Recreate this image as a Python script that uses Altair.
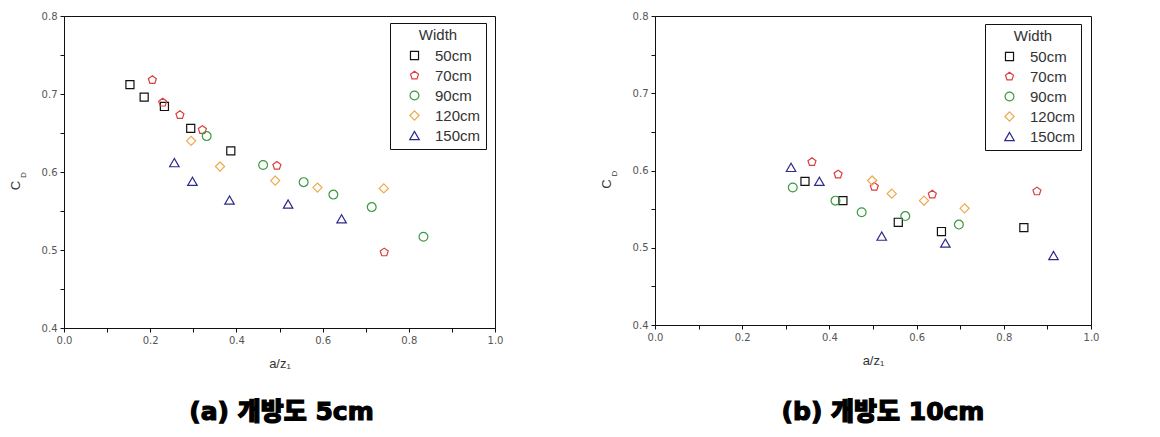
import altair as alt
import pandas as pd

widths = ["50cm", "70cm", "90cm", "120cm", "150cm"]
colors = ["#111111", "#d8403f", "#3a9a3e", "#f0a84c", "#2c2a8c"]
pentagon = "M0,-1L0.951,-0.309L0.588,0.809L-0.588,0.809L-0.951,-0.309Z"
shapes = ["square", pentagon, "circle", "diamond", "triangle-up"]
marker_sizes = [65, 90, 75, 80, 80]

# panel (a) 5cm
a_50_x = [0.153, 0.186, 0.233, 0.294, 0.387]
a_50_y = [0.712, 0.696, 0.684, 0.656, 0.627]
a_70_x = [0.205, 0.229, 0.269, 0.321, 0.494, 0.743]
a_70_y = [0.718, 0.689, 0.673, 0.654, 0.608, 0.497]
a_90_x = [0.331, 0.462, 0.556, 0.625, 0.714, 0.834]
a_90_y = [0.646, 0.609, 0.587, 0.571, 0.555, 0.517]
a_120_x = [0.295, 0.362, 0.490, 0.588, 0.742]
a_120_y = [0.640, 0.607, 0.589, 0.580, 0.579]
a_150_x = [0.256, 0.298, 0.384, 0.520, 0.644]
a_150_y = [0.612, 0.588, 0.564, 0.559, 0.540]

# panel (b) 10cm
b_50_x = [0.344, 0.431, 0.558, 0.657, 0.846]
b_50_y = [0.586, 0.561, 0.533, 0.521, 0.526]
b_70_x = [0.360, 0.420, 0.503, 0.636, 0.876]
b_70_y = [0.611, 0.595, 0.579, 0.569, 0.573]
b_90_x = [0.316, 0.414, 0.474, 0.574, 0.697]
b_90_y = [0.578, 0.561, 0.546, 0.541, 0.530]
b_120_x = [0.498, 0.543, 0.617, 0.710]
b_120_y = [0.587, 0.570, 0.561, 0.551]
b_150_x = [0.312, 0.377, 0.520, 0.666, 0.914]
b_150_y = [0.604, 0.586, 0.515, 0.506, 0.490]

captions = ["(a) 개방도 5cm", "(b) 개방도 10cm"]


def frame(series):
    rows = []
    for w, xs, ys in series:
        for x, y in zip(xs, ys):
            rows.append({"Width": w, "x": x, "y": y})
    return pd.DataFrame(rows)


df_a = frame([("50cm", a_50_x, a_50_y), ("70cm", a_70_x, a_70_y), ("90cm", a_90_x, a_90_y),
              ("120cm", a_120_x, a_120_y), ("150cm", a_150_x, a_150_y)])
df_b = frame([("50cm", b_50_x, b_50_y), ("70cm", b_70_x, b_70_y), ("90cm", b_90_x, b_90_y),
              ("120cm", b_120_x, b_120_y), ("150cm", b_150_x, b_150_y)])

x_ticks = [round(i * 0.1, 1) for i in range(11)]
y_ticks = [round(0.4 + i * 0.05, 2) for i in range(9)]


def panel(df, caption, w, h, lx, ly, cap_dx):
    legend = alt.Legend(
        title="Width", orient="none", legendX=lx, legendY=ly,
        strokeColor="#111", padding=5, titleAnchor="middle",
        titleFont="Liberation Sans", titleFontSize=15, titleFontWeight="normal",
        titleColor="#333", titlePadding=5,
        labelFont="Liberation Sans", labelFontSize=15, labelColor="#333",
        labelOffset=13, symbolOffset=12, rowPadding=4,
        symbolSize=35, symbolStrokeWidth=1.2, symbolFillColor="transparent",
    )
    pts = alt.Chart(df).mark_point(filled=False, strokeWidth=1.2, opacity=1).encode(
        x=alt.X("x:Q", scale=alt.Scale(domain=[0, 1], nice=False),
                axis=alt.Axis(values=x_ticks, title="a/z₁", titlePadding=12,
                              labelExpr="round(datum.value*10)%2==0 ? format(datum.value,'.1f') : ''")),
        y=alt.Y("y:Q", scale=alt.Scale(domain=[0.4, 0.8], nice=False, zero=False),
                axis=alt.Axis(values=y_ticks, title="C", titleX=-42, titleY=h / 2 + 13,
                              labelExpr="round(datum.value*100)%10==0 ? format(datum.value,'.1f') : ''")),
        color=alt.Color("Width:N", scale=alt.Scale(domain=widths, range=colors), legend=legend),
        shape=alt.Shape("Width:N", scale=alt.Scale(domain=widths, range=shapes), legend=legend),
        size=alt.Size("Width:N", scale=alt.Scale(domain=widths, range=marker_sizes), legend=None),
    )
    sub = alt.Chart(pd.DataFrame({"t": ["D"]})).mark_text(
        angle=270, fontSize=8, font="Liberation Sans", color="#333", baseline="bottom", align="center"
    ).encode(text="t:N", x=alt.value(-36), y=alt.value(h / 2 + 3))
    cap = alt.Chart(pd.DataFrame({"t": [caption]})).mark_text(
        fontSize=25, fontWeight=900, font="DejaVu Sans, Noto Sans CJK KR", color="#000",
        stroke="#000", strokeWidth=1.2, baseline="middle", align="center"
    ).encode(text="t:N", x=alt.value(w / 2 + cap_dx), y=alt.value(396))
    return alt.layer(pts, sub, cap).properties(width=w, height=h)


chart = alt.hconcat(
    panel(df_a, captions[0], 431, 312, 326, 7, 2),
    panel(df_b, captions[1], 436, 309, 330, 8, 10),
    spacing=95,
).resolve_legend(color="independent", shape="independent", size="independent").properties(
    padding={"left": 0, "top": 2, "right": 5, "bottom": 5}
).configure_view(stroke="#111", strokeWidth=1).configure_axis(
    domainColor="#111", tickColor="#111", tickSize=4, grid=False,
    labelFont="DejaVu Sans", labelFontSize=10, labelColor="#555", labelPadding=3,
    titleFont="Liberation Sans", titleFontSize=13, titleFontWeight="normal", titleColor="#333",
    labelFlush=False,
).configure_concat(spacing=95)

chart.save("out.html", embed_options={"renderer": "svg", "actions": False})
